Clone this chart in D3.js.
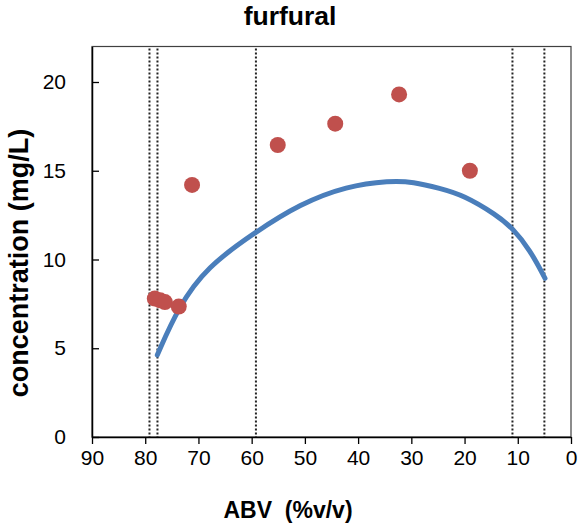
<!DOCTYPE html>
<html>
<head>
<meta charset="utf-8">
<script src="https://cdn.jsdelivr.net/npm/d3@7"></script>
<style>
  body { margin: 0; background: #fff; }
  svg text { font-family: "Liberation Sans", Arial, sans-serif; fill: #000; }
</style>
</head>
<body>
<svg id="chart" width="579" height="526"></svg>
<script>
// measured samples (ABV %v/v, furfural mg/L)
const sampleAbv  = [78.2, 77.2, 76.3, 73.7, 71.2, 55.1, 44.3, 32.3, 19.0]
const sampleConc = [7.8, 7.7, 7.6, 7.35, 14.2, 16.45, 17.65, 19.3, 15.0]

// fitted curve
const curveAbv  = [77.73, 73.78, 68.45, 59.19, 50.92, 42.14, 34.01, 29.69, 24.61, 20.24, 13.96, 10.95, 7.70, 4.88]
const curveConc = [4.62, 7.32, 9.58, 11.57, 13.13, 14.14, 14.44, 14.38, 14.01, 13.63, 12.51, 11.76, 10.54, 8.94]

// dotted reference lines
const markerAbv = [79.2, 77.7, 59.2, 11.0, 5.0]

const xTicks = [90, 80, 70, 60, 50, 40, 30, 20, 10, 0]
const yTicks = [0, 5, 10, 15, 20]

const svg = d3.select("#chart")
const plotLeft = 92, plotRight = 571, plotTop = 46.5, plotBottom = 437

const x = d3.scaleLinear().domain([90, 0]).range([plotLeft, plotRight])
const y = d3.scaleLinear().domain([0, 22]).range([plotBottom, plotTop])

// plot frame
svg.append("rect")
    .attr("x", plotLeft).attr("y", plotTop)
    .attr("width", plotRight - plotLeft).attr("height", plotBottom - plotTop)
    .attr("fill", "none")
    .attr("stroke", "#404040")
    .attr("stroke-width", 1.2)

svg.selectAll(".marker")
    .data(markerAbv)
    .enter()
    .append("line")
    .attr("class", "marker")
    .attr("x1", d => x(d)).attr("x2", d => x(d))
    .attr("y1", plotTop + 2).attr("y2", plotBottom)
    .attr("stroke", "#222")
    .attr("stroke-width", 2)
    .attr("stroke-dasharray", "2 2")

// axes
const xAxis = svg.append("g")
    .attr("transform", "translate(0," + plotBottom + ")")
    .call(d3.axisBottom(x).tickValues(xTicks).tickSize(7).tickPadding(6).tickSizeOuter(0))
xAxis.select(".domain").attr("stroke", "#000").attr("stroke-width", 1.5)
xAxis.selectAll(".tick line").attr("stroke", "#000").attr("stroke-width", 1.3)
xAxis.selectAll("text").style("font-size", "21px")

const yAxis = svg.append("g")
    .attr("transform", "translate(" + plotLeft + ",0)")
    .call(d3.axisLeft(y).tickValues(yTicks).tickSize(-7).tickPadding(26).tickSizeOuter(0))
yAxis.select(".domain").attr("stroke", "#000").attr("stroke-width", 1.5)
yAxis.selectAll(".tick line").attr("stroke", "#000").attr("stroke-width", 1.3)
yAxis.selectAll("text").style("font-size", "21px")

// fitted curve (B-spline smooths out reading noise)
const curvePts = curveAbv.map((a, i) => [a, curveConc[i]])
const line = d3.line()
    .x(d => x(d[0]))
    .y(d => y(d[1]))
    .curve(d3.curveBasis)

svg.append("path")
    .datum(curvePts)
    .attr("d", line)
    .attr("fill", "none")
    .attr("stroke", "#4a7ebb")
    .attr("stroke-width", 5)
    .attr("stroke-linecap", "round")

// samples
svg.selectAll(".sample")
    .data(sampleAbv.map((a, i) => [a, sampleConc[i]]))
    .enter()
    .append("circle")
    .attr("class", "sample")
    .attr("cx", d => x(d[0]))
    .attr("cy", d => y(d[1]))
    .attr("r", 8)
    .attr("fill", "#c0504d")

// titles
svg.append("text")
    .attr("x", 290).attr("y", 25)
    .attr("text-anchor", "middle")
    .style("font-size", "26.5px").style("font-weight", "bold")
    .text("furfural")

svg.append("text")
    .attr("x", 288).attr("y", 518)
    .attr("text-anchor", "middle")
    .style("font-size", "23px").style("font-weight", "bold")
    .attr("xml:space", "preserve")
    .text("ABV  (%v/v)")

svg.append("text")
    .attr("transform", "translate(28,263) rotate(-90)")
    .attr("text-anchor", "middle")
    .style("font-size", "27px").style("font-weight", "bold")
    .text("concentration (mg/L)")
</script>
</body>
</html>
